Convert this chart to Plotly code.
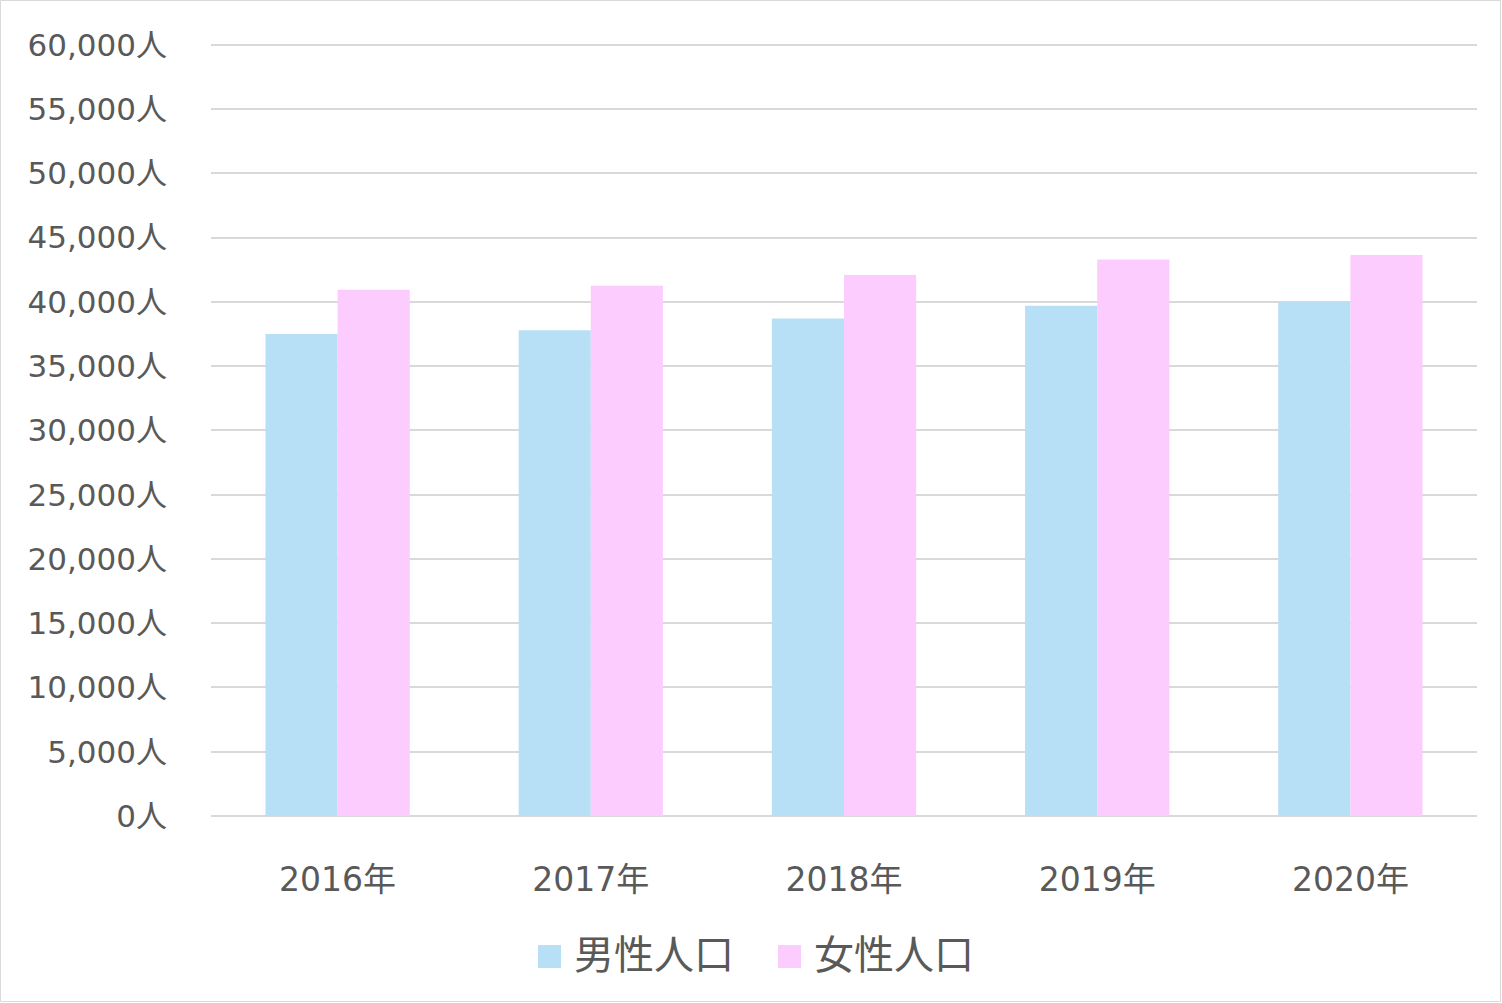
import plotly.graph_objects as go

years = ['2016年', '2017年', '2018年', '2019年', '2020年']
male = [37500, 37800, 38700, 39700, 40000]
female = [40950, 41250, 42100, 43300, 43650]
series_names = ['男性人口', '女性人口']
series_colors = ['#B7DFF6', '#FDCCFE']
y_ticks = list(range(0, 60001, 5000))
y_labels = [f'{v:,}人' for v in y_ticks]

W, H = 1502, 1003
ML, MR, MT, MB = 211, 25, 41, 187
pw = W - ML - MR
ph = H - MT - MB

def px_x(p):
    return (p - ML) / pw

def px_y(p):
    return (H - MB - p) / ph

fig = go.Figure()
for name, vals, col in zip(series_names, [male, female], series_colors):
    fig.add_trace(go.Bar(name=name, x=years, y=vals, marker_color=col,
                         marker_line_width=0, showlegend=False))

font = 'DejaVu Sans, Noto Sans CJK JP'
fig.update_yaxes(range=[0, 60300], tickvals=y_ticks, ticktext=y_labels,
                 showgrid=True, gridcolor='#D9D9D9', gridwidth=2,
                 zeroline=True, zerolinecolor='#D9D9D9', zerolinewidth=2,
                 ticks='', ticklabelstandoff=43,
                 tickfont=dict(family=font, size=31, color='#595959'))
fig.update_xaxes(showline=False, ticks='', ticklabelstandoff=41,
                 tickfont=dict(family=font, size=33, color='#595959'))

# outer chart border
fig.add_shape(type='rect', xref='paper', yref='paper',
              x0=px_x(0.5), x1=px_x(W - 1.5), y0=px_y(H - 1.5), y1=px_y(0.5),
              line=dict(color='#D9D9D9', width=1), layer='below')

# legend drawn by hand (big square swatches like the original)
legend_x = [538, 778]
for name, col, lx in zip(series_names, series_colors, legend_x):
    fig.add_shape(type='rect', xref='paper', yref='paper',
                  x0=px_x(lx), x1=px_x(lx + 23), y0=px_y(968), y1=px_y(945),
                  fillcolor=col, line=dict(width=0))
    fig.add_annotation(xref='paper', yref='paper', x=px_x(lx + 34), y=px_y(952),
                       xanchor='left', yanchor='middle', showarrow=False,
                       text=name, font=dict(family='Noto Sans CJK JP', size=40, color='#595959'))

fig.update_layout(width=W, height=H,
                  margin=dict(l=ML, r=MR, t=MT, b=MB),
                  plot_bgcolor='#FFFFFF', paper_bgcolor='#FFFFFF',
                  barmode='group', bargap=0.43, bargroupgap=0,
                  showlegend=False)

fig.write_html('out.html', config={'displayModeBar': False},
               post_script="document.body.style.margin='0';")
